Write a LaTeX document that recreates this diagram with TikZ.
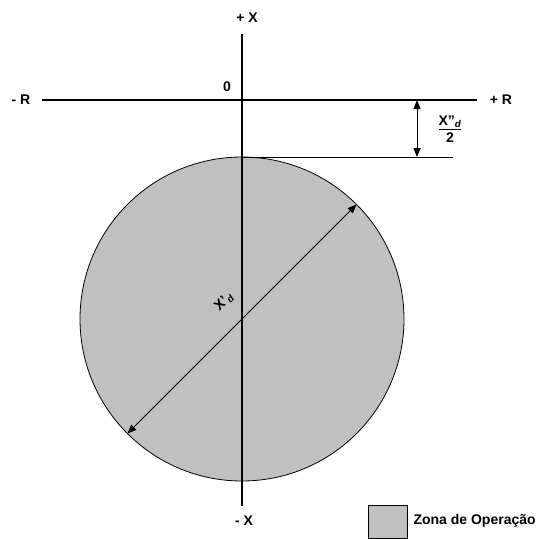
\documentclass[tikz,border=0pt]{standalone}
\usepackage{fontspec}
\setmainfont{Liberation Sans}
\usetikzlibrary{arrows.meta}

\definecolor{zonagray}{RGB}{192,192,192}

\begin{document}
\begin{tikzpicture}[x=1pt,y=-1pt,
    font=\bfseries\fontsize{14}{16}\selectfont,
    axis/.style={line width=1.8pt},
    thin line/.style={line width=0.8pt},
    dimarrow/.style={line width=0.8pt,
      {Triangle[length=9pt,width=7pt]}-{Triangle[length=9pt,width=7pt]}}]
    \useasboundingbox (0,0) rectangle (540,538);

    % Operating zone (grey circle)
    \coordinate (C) at (242,319);
    \fill[zonagray, draw=black, thin line] (C) circle (162);

    % Axes end points
    \coordinate (Xtop) at (242,34);
    \coordinate (Xbot) at (242,506);
    \coordinate (Rleft) at (42,100);
    \coordinate (Rright) at (477,100);

    % Axes (thick black)
    \draw[axis] (Xtop) -- (Xbot);
    \draw[axis] (Rleft) -- (Rright);

    % Axis labels
    \node (plusX) at (247,18) {+ X};
    \node (minusX) at (244,521) {- X};
    \node (minusR) at (21,100) {- R};
    \node (plusR) at (501,100) {+ R};
    \node (zero) at (227,87) {0};

    % Offset X''d/2 between R axis and top of circle
    \coordinate (Ctop) at (242,157);
    \coordinate (Dtop) at (417,100);
    \coordinate (Dbot) at (417,157);
    \coordinate (Lend) at (453,157);
    \draw[thin line] (Ctop) -- (Lend);
    \draw[dimarrow] (Dtop) -- (Dbot);
    \node[align=center, inner sep=0pt] (offset) at (450,129)
      {\underline{X\symbol{34}\textsubscript{\itshape d}}\\[1pt]2};

    % Diameter X'd
    \coordinate (Dia1) at (127.4,433.6);
    \coordinate (Dia2) at (356.6,204.4);
    \draw[dimarrow] (Dia1) -- (Dia2);
    \node[rotate=45, inner sep=0pt] (diam) at (224,302) {X\symbol{39}\textsubscript{\itshape d}};

    % Legend
    \node[draw, thin line, fill=zonagray, minimum width=39pt, minimum height=33pt,
      inner sep=0pt] (legbox) at (387.5,521.5) {};
    \node[anchor=west] (legtext) at (410,521) {Zona de Operação};
\end{tikzpicture}
\end{document}
